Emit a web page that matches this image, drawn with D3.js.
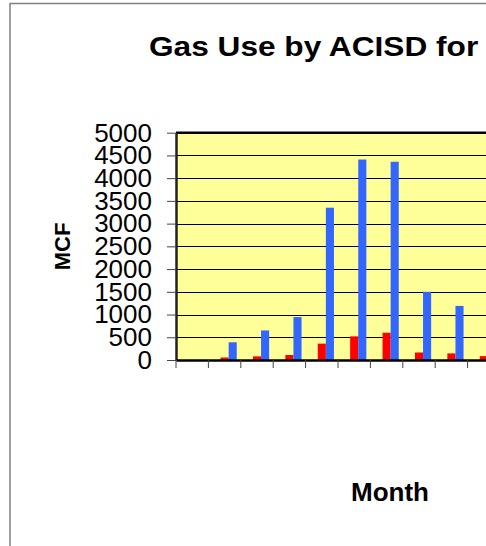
<!DOCTYPE html>
<html>
<head>
<meta charset="utf-8">
<script src="https://cdn.jsdelivr.net/npm/d3@7"></script>
<style>
  body { margin: 0; background: #fff; }
  svg { display: block; font-family: Arial, "Liberation Sans", sans-serif; }
</style>
</head>
<body>
<div id="chart"></div>
<script>
// months on the category axis (the chart is cut off on the right)
var months = ["Jul", "Aug", "Sep", "Oct", "Nov", "Dec", "Jan", "Feb", "Mar", "Apr", "May", "Jun"];
// bar slots inside each month; the first slot is empty in the chart
var slots = ["blank", "red", "blue"];
var redValues = [0, 55, 80, 110, 360, 520, 600, 165, 145, 85, null, null];
var blueValues = [0, 390, 650, 945, 3350, 4410, 4360, 1500, 1190, null, null, null];
var yTicks = [0, 500, 1000, 1500, 2000, 2500, 3000, 3500, 4000, 4500, 5000];

var width = 486, height = 546;
var plotLeft = 176, plotTop = 132.7, plotBottom = 360, step = 32.4;

function createSVG(div) {
  d3.select(div + " > svg").remove();
  return d3.select(div).append("svg")
    .attr("width", width)
    .attr("height", height);
}

var svg = createSVG("#chart");

// outer chart frame
svg.append("rect")
  .attr("x", 10)
  .attr("y", 3.5)
  .attr("width", 600)
  .attr("height", 600)
  .attr("fill", "#fff")
  .attr("stroke", "#808080")
  .attr("stroke-width", 1.5);

var x0 = d3.scaleBand()
  .domain(months)
  .range([plotLeft, plotLeft + step * months.length])
  .paddingInner(0)
  .paddingOuter(0);

var x1 = d3.scaleBand()
  .domain(slots)
  .range([0, x0.bandwidth()])
  .paddingInner(0)
  .paddingOuter(0.5);

var y = d3.scaleLinear()
  .domain([0, 5000])
  .range([plotBottom, plotTop]);

var plotRight = x0.range()[1];

// plot area
svg.append("rect")
  .attr("x", plotLeft)
  .attr("y", plotTop)
  .attr("width", plotRight - plotLeft)
  .attr("height", plotBottom - plotTop)
  .attr("fill", "#ffff99");

// gridlines
svg.append("g")
  .selectAll("line")
  .data(yTicks.slice(1, -1))
  .enter().append("line")
  .attr("x1", plotLeft)
  .attr("x2", plotRight)
  .attr("y1", function(d) { return Math.round(y(d)) + 0.5; })
  .attr("y2", function(d) { return Math.round(y(d)) + 0.5; })
  .attr("stroke", "#000")
  .attr("stroke-width", 1);

// top border of plot
svg.append("line")
  .attr("x1", plotLeft)
  .attr("x2", plotRight)
  .attr("y1", y(5000))
  .attr("y2", y(5000))
  .attr("stroke", "#000")
  .attr("stroke-width", 2.5);

// bars
var series = [
  { slot: "red", values: redValues, fill: "#ff0000" },
  { slot: "blue", values: blueValues, fill: "#3366ff" }
];
series.forEach(function(s) {
  svg.append("g")
    .selectAll("rect")
    .data(months.map(function(m, i) { return { month: m, value: s.values[i] }; })
      .filter(function(d) { return d.value != null && d.value > 0; }))
    .enter().append("rect")
    .attr("x", function(d) { return x0(d.month) + x1(s.slot); })
    .attr("y", function(d) { return y(d.value); })
    .attr("width", x1.bandwidth())
    .attr("height", function(d) { return plotBottom - y(d.value); })
    .attr("fill", s.fill);
});

// y axis
var yAxis = svg.append("g")
  .attr("transform", "translate(" + plotLeft + ",0)")
  .call(d3.axisLeft(y).tickValues(yTicks).tickSize(9).tickSizeOuter(0)
    .tickPadding(15).tickFormat(d3.format("d")));
yAxis.select(".domain").attr("stroke", "#222").attr("stroke-width", 2.5);
yAxis.selectAll(".tick line").attr("stroke", "#444");
yAxis.selectAll(".tick text")
  .attr("font-size", 26)
  .attr("font-family", "Arial, 'Liberation Sans', sans-serif")
  .attr("fill", "#000");

// x axis
var xAxis = svg.append("g")
  .attr("transform", "translate(0," + plotBottom + ")")
  .call(d3.axisBottom(x0).tickSize(8).tickSizeOuter(0).tickFormat(""));
xAxis.select(".domain").attr("stroke", "#000").attr("stroke-width", 2.5);
xAxis.selectAll(".tick line")
  .attr("transform", "translate(" + (-step / 2) + ",0)")
  .attr("stroke", "#444");

// titles
svg.append("text")
  .attr("transform", "translate(149,56) scale(1.13,1)")
  .attr("font-size", 28)
  .attr("font-weight", "bold")
  .text("Gas Use by ACISD for");

svg.append("text")
  .attr("transform", "translate(69.5,246.5) rotate(-90)")
  .attr("text-anchor", "middle")
  .attr("font-size", 22)
  .attr("font-weight", "bold")
  .text("MCF");

svg.append("text")
  .attr("x", 390)
  .attr("y", 501)
  .attr("text-anchor", "middle")
  .attr("font-size", 26)
  .attr("font-weight", "bold")
  .text("Month");
</script>
</body>
</html>
